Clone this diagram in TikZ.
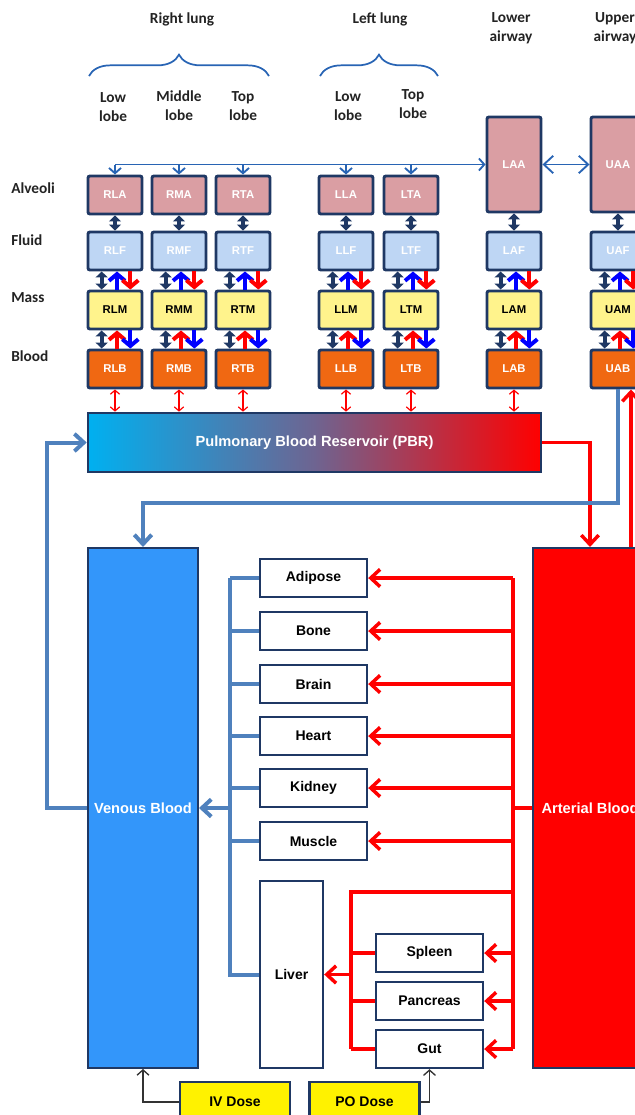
\documentclass[tikz,border=0pt]{standalone}
\usepackage{fontspec}
\setmainfont{Liberation Sans}
\newfontfamily\headfont{Carlito}
\usetikzlibrary{arrows.meta,decorations.pathreplacing}
\definecolor{navy}{RGB}{31,56,100}
\definecolor{alvpink}{RGB}{218,158,163}
\definecolor{fluidblue}{RGB}{190,214,244}
\definecolor{massyellow}{RGB}{255,243,140}
\definecolor{bloodorange}{RGB}{240,104,18}
\definecolor{steel}{RGB}{79,129,189}
\definecolor{venous}{RGB}{51,150,250}
\definecolor{pbrcyan}{RGB}{0,176,240}
\definecolor{pbrmid}{RGB}{110,100,145}
\definecolor{busblue}{RGB}{40,100,180}
\definecolor{headgray}{RGB}{35,35,35}
\tikzset{
  head/.style={font=\headfont\bfseries\fontsize{11.5}{14}\selectfont,text=headgray,align=center,inner sep=0pt},
  comp/.style={draw=navy,line width=2.2pt,rounded corners=1.5pt,minimum width=40.5pt,minimum height=28.5pt,inner sep=0pt,font=\bfseries\fontsize{8.5}{9}\selectfont,text=white},
  alv/.style={comp,fill=alvpink},
  fld/.style={comp,fill=fluidblue},
  mas/.style={comp,fill=massyellow,text=black},
  bld/.style={comp,fill=bloodorange},
  organ/.style={draw=navy,line width=1.8pt,fill=white,minimum width=80.25pt,minimum height=28.5pt,inner sep=0pt,font=\bfseries\fontsize{10.5}{12}\selectfont},
  pool/.style={draw=navy,line width=1.5pt,minimum width=82.5pt,minimum height=390pt,inner sep=0pt,text=white,font=\bfseries\fontsize{11}{13}\selectfont},
  pbr/.style={draw=navy,line width=2pt,left color=pbrcyan,right color=red,middle color=pbrmid,minimum width=339.75pt,minimum height=44.25pt,inner sep=0pt,text=white,font=\bfseries\fontsize{11}{13}\selectfont},
  dose/.style={draw=navy,line width=1.8pt,fill=yellow,minimum width=82.5pt,minimum height=30pt,inner sep=0pt,font=\bfseries\fontsize{10.5}{12}\selectfont},
  lungbrace/.style={draw=busblue,line width=1.3pt,decorate,decoration={brace,amplitude=16pt}},
  bus/.style={draw=busblue,line width=1.4pt},
  busarr/.style={bus,-{Straight Barb[length=4pt,width=9pt]}},
  exch/.style={draw=navy,line width=3.2pt,{Triangle[length=4.5pt,width=9pt]}-{Triangle[length=4.5pt,width=9pt]}},
  upblue/.style={draw=blue,line width=3pt,-{Straight Barb[length=5pt,width=12pt]}},
  upred/.style={upblue,draw=red},
  pbrlink/.style={draw=red,line width=0.9pt,{Straight Barb[length=3pt,width=7pt]}-{Straight Barb[length=3pt,width=7pt]}},
  vein/.style={draw=steel,line width=3pt},
  veinarr/.style={vein,-{Straight Barb[length=7pt,width=13pt]}},
  artery/.style={draw=red,line width=2.6pt},
  arteryarr/.style={artery,-{Straight Barb[length=7pt,width=13pt]}},
  doseline/.style={draw=black!80,line width=1pt,-{Straight Barb[length=4pt,width=9pt]}}
}
\begin{document}
\begin{tikzpicture}[x=0.75pt,y=-0.75pt]
\useasboundingbox (0,0) rectangle (635,1115);

\node[head] (rlung) at (182,19) {Right lung};
\node[head] (llung) at (380,19) {Left lung};
\node[head] (lair) at (511,28) {Lower\\airway};
\node[head] (uair) at (615,28) {Upper\\airway};
\draw[lungbrace] (89,76) -- (269,76);
\draw[lungbrace] (320,76) -- (438,76);
\node[head] (rlow) at (113,107) {Low\\lobe};
\node[head] (rmid) at (179,106) {Middle\\lobe};
\node[head] (rtop) at (243,106) {Top\\lobe};
\node[head] (llow) at (348,106) {Low\\lobe};
\node[head] (ltop) at (413,104) {Top\\lobe};
\node[head,anchor=west] (ralv) at (11,188) {Alveoli};
\node[head,anchor=west] (rfld) at (11,240) {Fluid};
\node[head,anchor=west] (rmas) at (11,298) {Mass};
\node[head,anchor=west] (rbld) at (11,356) {Blood};

\node[pbr] (PBR) at (314.5,442.5) {Pulmonary Blood Reservoir (PBR)};

\foreach \col/\x in {RL/115,RM/179,RT/243,LL/346,LT/411}
  \node[alv] (\col A) at (\x,195) {\col A};
\node[alv,minimum height=71.25pt] (LAA) at (514,164.5) {LAA};
\node[alv,minimum height=71.25pt] (UAA) at (618,164.5) {UAA};
\foreach \col/\x in {RL/115,RM/179,RT/243,LL/346,LT/411,LA/514,UA/618}{
  \node[fld] (\col F) at (\x,251) {\col F};
  \node[mas] (\col M) at (\x,310) {\col M};
  \node[bld] (\col B) at (\x,369) {\col B};
  \draw[exch] (\col A) -- (\col F);
  \draw[exch] ([xshift=-10pt]\col F.south) -- ([xshift=-10pt]\col M.north);
  \draw[upblue] ([xshift=1.5pt]\col M.north) -- ([xshift=1.5pt]\col F.south);
  \draw[upred] ([xshift=11.5pt]\col F.south) -- ([xshift=11.5pt]\col M.north);
  \draw[exch] ([xshift=-10pt]\col M.south) -- ([xshift=-10pt]\col B.north);
  \draw[upred] ([xshift=1.5pt]\col B.north) -- ([xshift=1.5pt]\col M.south);
  \draw[upblue] ([xshift=11.5pt]\col M.south) -- ([xshift=11.5pt]\col B.north);
}
\foreach \col in {RL,RM,RT,LL,LT,LA}
  \draw[pbrlink] (\col B) -- (\col B.south |- PBR.north);

\draw[busarr] (RLA.north |- LAA.west) -- (LAA.west);
\foreach \col in {RL,RM,RT,LL,LT}
  \draw[busarr] (\col A.north |- LAA.west) -- (\col A.north);
\draw[bus,{Straight Barb[length=7pt,width=13pt]}-{Straight Barb[length=7pt,width=13pt]}] (LAA) -- (UAA);

\node[pool,fill=venous] (VB) at (143,808) {Venous Blood};
\node[pool,fill=red,minimum width=86.25pt] (AB) at (590,808) {Arterial Blood};

\foreach \org/\y/\txt in {adipose/578/Adipose,bone/631/Bone,brain/684/Brain,heart/736/Heart,kidney/788/Kidney,muscle/841/Muscle}
  \node[organ] (\org) at (313.5,\y) {\txt};
\node[organ,minimum width=47.25pt,minimum height=140.25pt] (liver) at (291.5,974.5) {Liver};
\foreach \org/\y/\txt in {spleen/953/Spleen,pancreas/1001/Pancreas,gut/1049/Gut}
  \node[organ] (\org) at (429.5,\y) {\txt};

\node[dose] (iv) at (235,1102) {IV Dose};
\node[dose] (po) at (364.5,1102) {PO Dose};

\coordinate (venacol) at (230,0);
\coordinate (artcol) at (513,0);
\coordinate (hep) at (351,892);
\coordinate (lloop) at (47,0);
\coordinate (uaret) at (0,503);
\coordinate (uain) at ([xshift=9.75pt]UAB.south);

\draw[veinarr] (VB.west) -| (lloop |- PBR.west) -- (PBR.west);
\draw[arteryarr] (PBR.east) -| (AB.north);
\draw[veinarr] (UAB.south) |- (VB.north |- uaret) -- (VB.north);
\draw[arteryarr] (AB.north -| uain) -- (uain);

\draw[vein] (adipose.west -| venacol) -- (liver.west -| venacol) -- (liver.west);
\foreach \org in {adipose,bone,brain,heart,kidney,muscle}
  \draw[vein] (\org.west) -- (\org.west -| venacol);
\draw[veinarr] (VB.east -| venacol) -- (VB.east);

\draw[artery] (adipose.east -| artcol) -- (gut.east -| artcol);
\draw[artery] (AB.west) -- (AB.west -| artcol);
\foreach \org in {adipose,bone,brain,heart,kidney,muscle,spleen,pancreas,gut}
  \draw[arteryarr] (\org.east -| artcol) -- (\org.east);
\draw[artery] (hep -| artcol) -- (hep) -- (hep |- gut.west);
\foreach \org in {spleen,pancreas,gut}
  \draw[artery] (\org.west) -- (\org.west -| hep);
\draw[arteryarr] (liver.east -| hep) -- (liver.east);

\draw[doseline] (iv.west) -| (VB.south);
\draw[doseline] (po.east) -| (gut.south);
\end{tikzpicture}
\end{document}
